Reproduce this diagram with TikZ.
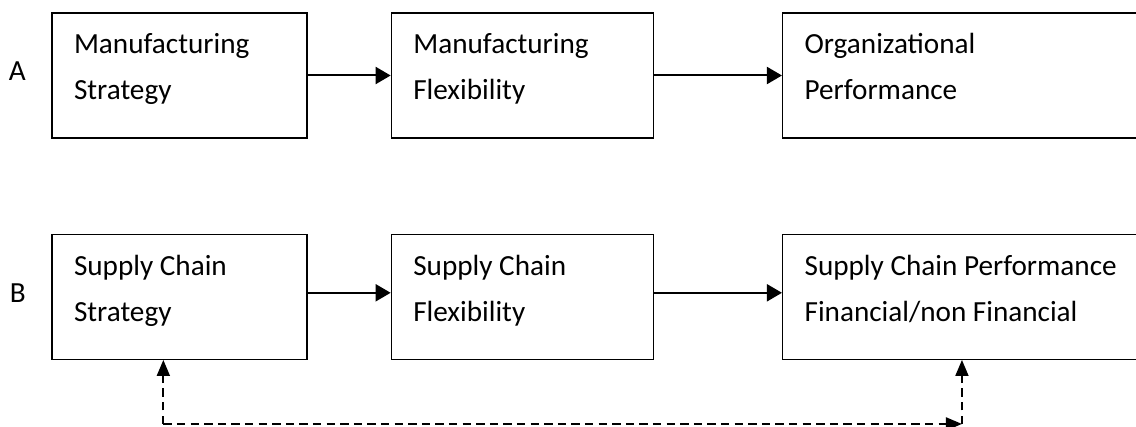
\documentclass[tikz,border=0pt]{standalone}
\usepackage{fontspec}
\setmainfont{Carlito}
\usetikzlibrary{arrows.meta,positioning}

\begin{document}
\begin{tikzpicture}[->,>={Triangle[length=7.5pt,width=8.5pt]},semithick,node distance=2cm]
		\tikzstyle{block}=[draw=black,line width=0.65pt,align=flush left,inner xsep=11pt,inner ysep=0pt,text height=20.5pt,text depth=42pt,font={\fontsize{14.6pt}{23pt}\selectfont}]
		\tikzstyle{tag}=[inner sep=0pt,font={\fontsize{14.6pt}{23pt}\selectfont}]
		\tikzstyle{flow}=[line width=1pt]
		\tikzstyle{feedback}=[line width=0.9pt,dash pattern=on 4.2pt off 2.6pt,-{Triangle[length=8pt,width=6.5pt]}]
		\useasboundingbox (0,0) rectangle (568pt,-213.5pt);
		% row A
		\node[block,text width=105.5pt] (A1) at (89.75pt,-37.75pt) {Manufacturing\\Strategy};
		\node[block,text width=109pt]   (A2) [right=41.5pt of A1] {Manufacturing\\Flexibility};
		\node[block,text width=163pt]   (A3) [right=64pt of A2]   {Organizational\\Performance};
		\node[tag] (LA) [left=12.5pt of A1,yshift=2pt] {A};
		% row B
		\node[block,text width=105.5pt] (B1) [below=47.5pt of A1] {Supply Chain\\Strategy};
		\node[block,text width=109pt]   (B2) [right=41.5pt of B1] {Supply Chain\\Flexibility};
		\node[block,text width=163pt]   (B3) [right=64pt of B2]   {Supply Chain Performance\\Financial/non Financial};
		\node[tag] (LB) [left=12.5pt of B1,yshift=2pt] {B};
		\draw[flow] (A1) -- (A2);
		\draw[flow] (A2) -- (A3);
		\draw[flow] ([yshift=2pt]B1.east) -- ([yshift=2pt]B2.west);
		\draw[flow] ([yshift=2pt]B2.east) -- ([yshift=2pt]B3.west);
		% feedback loop
		\coordinate (fbL) at ([xshift=56pt,yshift=-32pt]B1.south west);
		\coordinate (upR) at ([xshift=90pt]B3.south west);
		\coordinate (fbR) at (fbL -| upR);
		\draw[feedback] (fbL) -- (fbL |- B1.south);
		\draw[feedback] (fbL) -- (fbR);
		\draw[feedback] (fbR) -- (upR);
	\end{tikzpicture}
\end{document}
